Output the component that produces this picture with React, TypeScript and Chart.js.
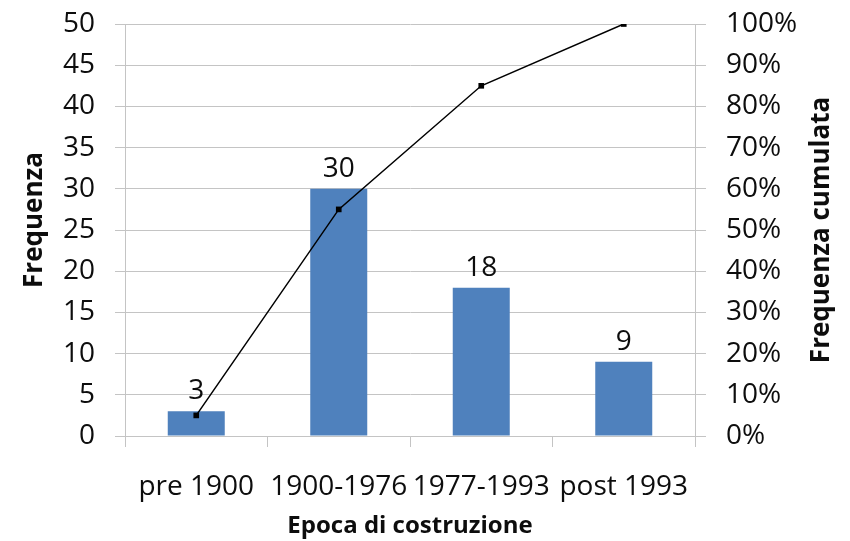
import React, { useEffect, useRef } from "react";
import { Chart, registerables } from "chart.js";

Chart.register(...registerables);

// Building epochs and their counts
const categories: string[] = ["pre 1900", "1900-1976", "1977-1993", "post 1993"];
const frequencies: number[] = [3, 30, 18, 9];
// Running share of buildings, in percent
const cumulativePercent: number[] = [5, 55, 85, 100];

const leftTitle = "Frequenza";
const rightTitle = "Frequenza cumulata";
const bottomTitle = "Epoca di costruzione";

const FONT = "'Open Sans', 'Liberation Sans', sans-serif";
const TEXT = "#0d0d0d";
const GRID = "#c4c4c4";
const BAR = "#4f81bd";

// Value labels above each bar
const barValueLabels = {
  id: "barValueLabels",
  afterDatasetsDraw(chart: any) {
    const meta = chart.getDatasetMeta(1);
    const ctx = chart.ctx;
    ctx.save();
    ctx.fillStyle = TEXT;
    ctx.font = `28px ${FONT}`;
    ctx.textAlign = "center";
    ctx.textBaseline = "alphabetic";
    meta.data.forEach((el: any, i: number) => {
      ctx.fillText(String(frequencies[i]), el.x, el.y - 12);
    });
    ctx.restore();
  },
};

// Axis titles, the side ones reading bottom-to-top
const axisTitles = {
  id: "axisTitles",
  afterDraw(chart: any) {
    const { ctx, chartArea } = chart;
    const midY = (chartArea.top + chartArea.bottom) / 2;
    ctx.save();
    ctx.fillStyle = TEXT;
    ctx.textAlign = "center";
    ctx.textBaseline = "middle";
    ctx.font = `bold 26px ${FONT}`;

    ctx.save();
    ctx.translate(35, midY - 10);
    ctx.rotate(-Math.PI / 2);
    ctx.fillText(leftTitle, 0, 0);
    ctx.restore();

    ctx.save();
    ctx.translate(chart.width - 28, midY);
    ctx.rotate(-Math.PI / 2);
    ctx.fillText(rightTitle, 0, 0);
    ctx.restore();

    ctx.font = `bold 24px ${FONT}`;
    ctx.fillText(bottomTitle, (chartArea.left + chartArea.right) / 2, chart.height - 15);
    ctx.restore();
  },
};

export default function App() {
  const canvasRef = useRef<HTMLCanvasElement | null>(null);

  useEffect(() => {
    if (!canvasRef.current) return;
    const chart = new Chart(canvasRef.current, {
      type: "bar",
      data: {
        labels: categories,
        datasets: [
          {
            type: "line",
            label: "Frequenza cumulata",
            data: cumulativePercent,
            yAxisID: "y2",
            borderColor: "#000000",
            borderWidth: 1.5,
            backgroundColor: "#000000",
            pointStyle: "rect",
            pointRadius: 4,
            pointBackgroundColor: "#000000",
            pointBorderWidth: 0,
            tension: 0,
            order: 0,
          } as any,
          {
            type: "bar",
            label: "Frequenza",
            data: frequencies,
            yAxisID: "y",
            backgroundColor: BAR,
            categoryPercentage: 1,
            barPercentage: 0.4,
            order: 1,
          },
        ],
      },
      options: {
        responsive: false,
        animation: false,
        layout: { padding: { top: 24, left: 0, right: 0, bottom: 0 } },
        plugins: {
          legend: { display: false },
          tooltip: { enabled: false },
          title: { display: false },
        },
        scales: {
          x: {
            type: "category",
            offset: true,
            grid: {
              offset: true,
              drawOnChartArea: false,
              drawTicks: true,
              tickLength: 11,
              color: GRID,
            },
            border: { display: true, color: GRID, width: 1 },
            ticks: {
              autoSkip: false,
              maxRotation: 0,
              minRotation: 0,
              padding: 23,
              color: TEXT,
              font: { family: FONT, size: 28 },
            },
            afterFit(scale: any) {
              scale.height = 105;
              scale.paddingLeft = 0;
              scale.paddingRight = 0;
            },
          },
          y: {
            type: "linear",
            position: "left",
            min: 0,
            max: 50,
            grid: { color: GRID, tickLength: 10, lineWidth: 1 },
            border: { display: true, color: GRID, width: 1 },
            ticks: {
              stepSize: 5,
              padding: 20,
              color: TEXT,
              font: { family: FONT, size: 28 },
            },
            afterFit(scale: any) {
              scale.width = 125;
              scale.paddingTop = 0;
              scale.paddingBottom = 0;
            },
          },
          y2: {
            type: "linear",
            position: "right",
            min: 0,
            max: 100,
            grid: { drawOnChartArea: false, color: GRID, tickLength: 11 },
            border: { display: true, color: GRID, width: 1 },
            ticks: {
              stepSize: 10,
              padding: 20,
              color: TEXT,
              font: { family: FONT, size: 28 },
              callback: (v: any) => `${v}%`,
            },
            afterFit(scale: any) {
              scale.width = 155;
              scale.paddingTop = 0;
              scale.paddingBottom = 0;
            },
          },
        },
      },
      plugins: [barValueLabels, axisTitles],
    });
    return () => chart.destroy();
  }, []);

  return (
    <div style={{ position: "absolute", left: 0, top: 0, width: 850, height: 541, background: "#ffffff" }}>
      <canvas ref={canvasRef} width={850} height={541} style={{ width: 850, height: 541, display: "block" }} />
    </div>
  );
}
